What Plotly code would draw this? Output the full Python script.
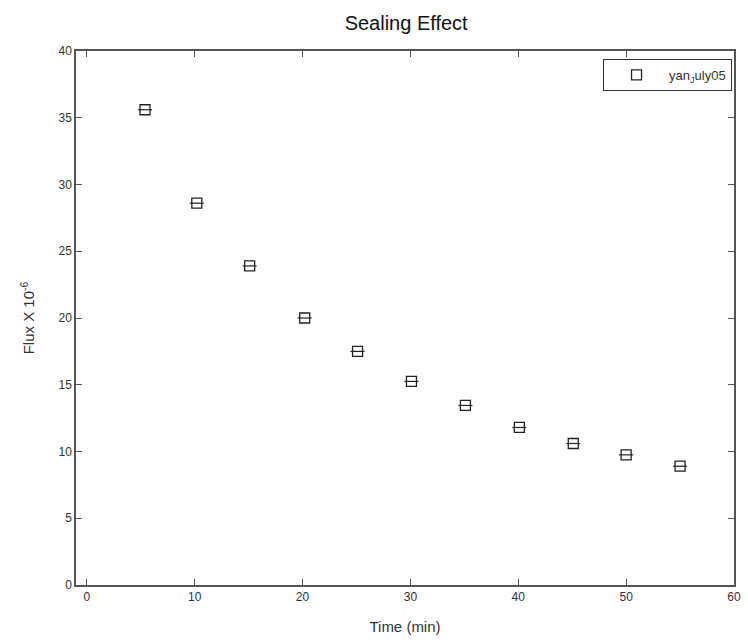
import plotly.graph_objects as go

time_min = [5.4, 10.2, 15.1, 20.2, 25.1, 30.1, 35.1, 40.1, 45.1, 50.0, 55.0]
flux = [35.6, 28.6, 23.9, 20.0, 17.5, 15.25, 13.45, 11.8, 10.6, 9.75, 8.9]
x_ticks = [0, 10, 20, 30, 40, 50, 60]
y_ticks = [0, 5, 10, 15, 20, 25, 30, 35, 40]

fig = go.Figure()
fig.add_trace(go.Scatter(
    x=time_min, y=flux, mode="markers", name="yan<sub>J</sub>uly05",
    marker=dict(symbol="square-open", size=10, color="#222",
                line=dict(width=1.3, color="#222")),
))
fig.add_trace(go.Scatter(
    x=time_min, y=flux, mode="markers", showlegend=False, hoverinfo="skip",
    marker=dict(symbol="line-ew", size=10, color="#222",
                line=dict(width=1.2, color="#222")),
))

axis_common = dict(
    showgrid=False, zeroline=False, showline=True, linecolor="#555",
    linewidth=1.5, mirror="allticks", ticks="inside", ticklen=6,
    tickcolor="#555", tickwidth=1,
    tickfont=dict(family="Liberation Sans, Arial", size=12, color="#333"),
)

fig.update_layout(
    width=748, height=643,
    margin=dict(l=76, r=7, t=51, b=58),
    paper_bgcolor="white", plot_bgcolor="white",
    title=dict(text="Sealing Effect", x=0.543, xanchor="center", y=0.965,
               yanchor="middle",
               font=dict(family="Liberation Sans, Arial", size=20, color="#111")),
    xaxis=dict(range=[-1, 60], tickvals=x_ticks,
               title=dict(text="Time (min)", standoff=18,
                          font=dict(family="Liberation Sans, Arial", size=15, color="#333")),
               **axis_common),
    yaxis=dict(range=[0, 40], tickvals=y_ticks,
               title=dict(text="Flux X 10<sup>-6</sup>", standoff=20,
                          font=dict(family="Liberation Sans, Arial", size=15, color="#333")),
               **axis_common),
    legend=dict(x=0.997, y=0.985, xanchor="right", yanchor="top",
                bordercolor="#333", borderwidth=1, bgcolor="white",
                itemwidth=55, entrywidth=125,
                font=dict(family="Liberation Sans, Arial", size=13, color="#333")),
    showlegend=True,
)

fig.write_html("out.html")
